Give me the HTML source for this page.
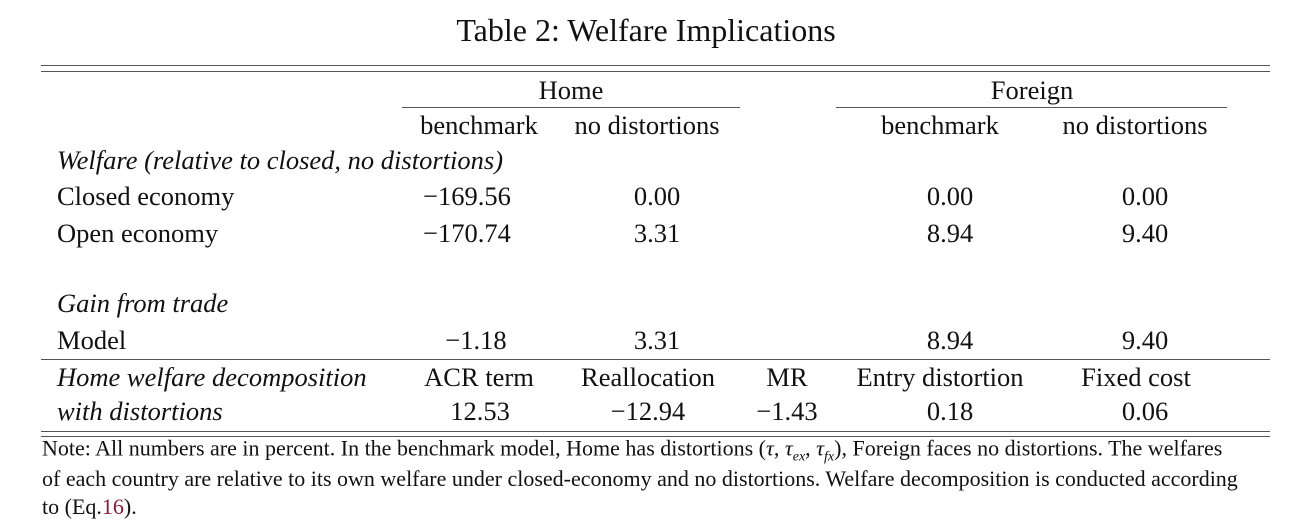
<!DOCTYPE html>
<html><head><meta charset="utf-8">
<style>
body{margin:0;width:1298px;height:525px;background:#fff;position:relative;overflow:hidden;font-family:"Liberation Serif",serif;color:#111;}
.t{position:absolute;white-space:nowrap;transform:translate(-50%,-50%);font-size:26.5px;line-height:1;}
.l{position:absolute;white-space:nowrap;transform:translateY(-50%);font-size:26.5px;line-height:1;}
.i{font-style:italic;}
.r{position:absolute;height:1.3px;background:#555;}
.n{position:absolute;left:42px;white-space:nowrap;transform:translateY(-50%);font-size:22px;line-height:1;}
</style></head><body>
<div class="t" style="left:646px;top:30px;font-size:32px">Table 2: Welfare Implications</div>
<div class="r" style="left:41px;width:1229px;top:65px"></div>
<div class="r" style="left:41px;width:1229px;top:71px"></div>
<div class="t" style="left:571px;top:90px">Home</div>
<div class="t" style="left:1032px;top:90px">Foreign</div>
<div class="r" style="left:402px;width:338px;top:107px"></div>
<div class="r" style="left:836px;width:391px;top:107px"></div>
<div class="t" style="left:479px;top:125px">benchmark</div>
<div class="t" style="left:647px;top:125px">no distortions</div>
<div class="t" style="left:940px;top:125px">benchmark</div>
<div class="t" style="left:1135px;top:125px">no distortions</div>

<div class="l i" style="left:57px;top:160px">Welfare (relative to closed, no distortions)</div>
<div class="l" style="left:57px;top:196px">Closed economy</div>
<div class="t" style="left:467px;top:196px">−169.56</div>
<div class="t" style="left:657px;top:196px">0.00</div>
<div class="t" style="left:950px;top:196px">0.00</div>
<div class="t" style="left:1145px;top:196px">0.00</div>
<div class="l" style="left:57px;top:233px">Open economy</div>
<div class="t" style="left:467px;top:233px">−170.74</div>
<div class="t" style="left:657px;top:233px">3.31</div>
<div class="t" style="left:950px;top:233px">8.94</div>
<div class="t" style="left:1145px;top:233px">9.40</div>

<div class="l i" style="left:57px;top:303px">Gain from trade</div>
<div class="l" style="left:57px;top:340px">Model</div>
<div class="t" style="left:476px;top:340px">−1.18</div>
<div class="t" style="left:657px;top:340px">3.31</div>
<div class="t" style="left:950px;top:340px">8.94</div>
<div class="t" style="left:1145px;top:340px">9.40</div>
<div class="r" style="left:41px;width:1229px;top:359px"></div>

<div class="l i" style="left:57px;top:377px">Home welfare decomposition</div>
<div class="t" style="left:479px;top:377px">ACR term</div>
<div class="t" style="left:648px;top:377px">Reallocation</div>
<div class="t" style="left:787px;top:377px">MR</div>
<div class="t" style="left:940px;top:377px">Entry distortion</div>
<div class="t" style="left:1136px;top:377px">Fixed cost</div>
<div class="l i" style="left:57px;top:411px">with distortions</div>
<div class="t" style="left:480px;top:411px">12.53</div>
<div class="t" style="left:648px;top:411px">−12.94</div>
<div class="t" style="left:787px;top:411px">−1.43</div>
<div class="t" style="left:950px;top:411px">0.18</div>
<div class="t" style="left:1145px;top:411px">0.06</div>
<div class="r" style="left:41px;width:1229px;top:431px"></div>
<div class="r" style="left:41px;width:1229px;top:436px"></div>

<div class="n" style="top:451px">Note: All numbers are in percent. In the benchmark model, Home has distortions (<i>τ</i>, <i>τ<sub style="font-size:14px">ex</sub></i>, <i>τ<sub style="font-size:14px">fx</sub></i>), Foreign faces no distortions. The welfares</div>
<div class="n" style="top:479px">of each country are relative to its own welfare under closed-economy and no distortions. Welfare decomposition is conducted according</div>
<div class="n" style="top:507px">to (Eq.<span style="color:#8b1a3a">16</span>).</div>
</body></html>
